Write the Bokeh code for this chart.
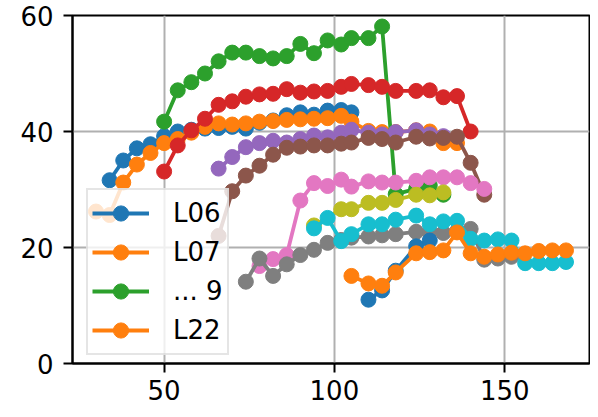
from bokeh.plotting import figure
from bokeh.models import Range1d, FixedTicker, Legend, LegendItem
from bokeh.embed import file_html
from bokeh.resources import INLINE

# ---- data ----
L06_x = [34, 38, 42, 46, 50, 54, 58, 62, 66, 70, 74, 78, 82, 86, 90, 94, 98, 102, 105]
L06_y = [31.6, 35.0, 37.1, 37.8, 39.2, 40.0, 40.3, 40.5, 40.6, 40.8, 40.5, 41.5, 41.9, 42.8, 43.3, 42.9, 43.6, 43.7, 43.3]

L07_x = [30, 34, 38, 42, 46, 50, 54, 58, 62, 66, 70, 74, 78, 82, 86, 90, 94, 98, 102, 105, 110, 114, 118, 124, 128, 132, 136]
L07_y = [26.2, 25.6, 31.2, 34.3, 36.3, 38.0, 38.7, 39.8, 40.8, 41.4, 41.2, 41.4, 41.7, 41.8, 42.0, 42.1, 42.2, 42.3, 42.7, 41.7, 40.1, 39.9, 39.9, 40.2, 40.0, 38.0, 38.0]

S3_x = [50, 54, 58, 62, 66, 70, 74, 78, 82, 86, 90, 94, 98, 102, 105, 110, 114, 118, 124, 128, 132]
S3_y = [41.7, 47.1, 48.5, 50.0, 52.1, 53.6, 53.6, 53.0, 52.6, 53.0, 55.1, 53.5, 55.7, 55.0, 56.1, 56.1, 58.1, 29.2, 30.1, 30.7, 29.1]

S4_x = [50, 54, 58, 62, 66, 70, 74, 78, 82, 86, 90, 94, 98, 102, 105, 110, 114, 118, 124, 128, 132, 136, 140]
S4_y = [33.1, 37.6, 40.2, 42.2, 44.6, 45.2, 46.0, 46.4, 46.5, 47.3, 46.7, 46.9, 47.0, 47.7, 48.2, 48.0, 47.7, 47.0, 47.0, 47.1, 45.9, 46.1, 40.0]

S5_x = [66, 70, 74, 78, 82, 86, 90, 94, 98, 102, 105, 110, 114, 118, 124, 128, 132]
S5_y = [33.6, 35.6, 37.3, 38.0, 38.4, 38.1, 38.7, 39.3, 39.0, 39.8, 40.3, 39.8, 39.5, 39.9, 40.2, 39.5, 39.2]

S6_x = [66, 70, 74, 78, 82, 86, 90, 94, 98, 102, 105, 110, 114, 118, 124, 128, 132, 136, 140, 144]
S6_y = [22.0, 29.7, 32.4, 34.1, 36.0, 37.2, 37.4, 37.6, 37.6, 37.9, 38.1, 38.9, 38.7, 38.1, 39.1, 38.8, 38.9, 39.1, 34.6, 29.1]

S7_x = [78, 82, 86, 90, 94, 98, 102, 105, 110, 114, 118, 124, 128, 132, 136, 140, 144]
S7_y = [16.8, 18.0, 18.7, 28.1, 31.1, 30.6, 31.7, 30.5, 31.4, 31.2, 31.2, 31.5, 32.1, 32.1, 32.1, 31.1, 30.1]

S8_x = [74, 78, 82, 86, 90, 94, 98, 102, 105, 110, 114, 118, 124, 128, 132, 136, 140, 144, 148, 152]
S8_y = [14.1, 18.1, 15.1, 17.1, 18.7, 19.6, 20.8, 21.3, 21.7, 21.9, 22.1, 22.3, 22.7, 22.7, 22.5, 22.8, 23.2, 17.9, 18.1, 18.4]

S9_x = [94, 102, 105, 110, 114, 118, 124, 128, 132]
S9_y = [23.8, 26.6, 26.6, 27.7, 27.7, 28.2, 29.1, 29.0, 29.5]

S10_x = [94, 98, 102, 105, 110, 114, 118, 124, 128, 132, 136, 140, 144, 148, 152, 156, 160, 164, 168]
S10_y = [23.3, 25.1, 21.1, 22.3, 24.0, 24.0, 24.8, 25.5, 24.0, 24.5, 24.6, 21.5, 21.2, 21.4, 21.2, 17.3, 17.3, 17.3, 17.5]

S11_x = [110, 114, 118, 124, 128]
S11_y = [11.0, 12.6, 16.0, 20.2, 21.2]

L22_x = [105, 110, 114, 118, 124, 128, 132, 136, 140, 144, 148, 152, 156, 160, 164, 168]
L22_y = [15.1, 13.8, 13.4, 15.7, 19.0, 19.2, 19.5, 22.6, 19.0, 18.4, 18.8, 19.1, 19.0, 19.4, 19.5, 19.5]

series = [
    (L06_x, L06_y), (L07_x, L07_y), (S3_x, S3_y), (S4_x, S4_y), (S5_x, S5_y),
    (S6_x, S6_y), (S7_x, S7_y), (S8_x, S8_y), (S9_x, S9_y), (S10_x, S10_y),
    (S11_x, S11_y), (L22_x, L22_y),
]
colors = ["#1f77b4", "#ff7f0e", "#2ca02c", "#d62728", "#9467bd",
          "#8c564b", "#e377c2", "#7f7f7f", "#bcbd22", "#17becf"]

x_ticks = [50, 100, 150]
y_ticks = [0, 20, 40, 60]
legend_labels = ["L06", "L07", "... 9", "L22"]
legend_series = [0, 1, 2, 11]

FONT = "DejaVu Sans"

p = figure(width=590, height=409, output_backend="svg", toolbar_location=None,
           x_range=Range1d(23.1, 174.9), y_range=Range1d(0, 60),
           min_border_left=72, min_border_right=1, min_border_top=15, min_border_bottom=46)

p.xaxis.ticker = FixedTicker(ticks=x_ticks)
p.yaxis.ticker = FixedTicker(ticks=y_ticks)
for ax in (p.xaxis, p.yaxis):
    ax.axis_line_width = 2
    ax.axis_line_color = "black"
    ax.major_tick_line_width = 2
    ax.major_tick_line_color = "black"
    ax.major_tick_out = 9
    ax.major_tick_in = 0
    ax.minor_tick_out = 0
    ax.minor_tick_in = 0
    ax.major_label_text_font = FONT
    ax.major_label_text_font_size = "26px"
    ax.major_label_text_color = "black"
p.xaxis.major_label_standoff = 7
p.yaxis.major_label_standoff = 10

p.grid.grid_line_color = "#b0b0b0"
p.grid.grid_line_width = 2
p.outline_line_color = "black"
p.outline_line_width = 2
p.outline_line_alpha = 1.0

rends = []
for i, (xs, ys) in enumerate(series):
    c = colors[i % len(colors)]
    l = p.line(xs, ys, color=c, line_width=3.8)
    s = p.scatter(xs, ys, size=15, color=c)
    rends.append((l, s))

items = [LegendItem(label=lab, renderers=list(rends[k])) for lab, k in zip(legend_labels, legend_series)]
legend = Legend(items=items, location=(14, 8), margin=0,
                label_text_font=FONT, label_text_font_size="26px", label_text_color="black",
                glyph_width=57, glyph_height=38, spacing=1, padding=4,
                label_standoff=24, border_line_color="#cccccc", border_line_width=2,
                background_fill_color="white", background_fill_alpha=0.8)
p.add_layout(legend)

open("out.html", "w").write(file_html(p, INLINE))
